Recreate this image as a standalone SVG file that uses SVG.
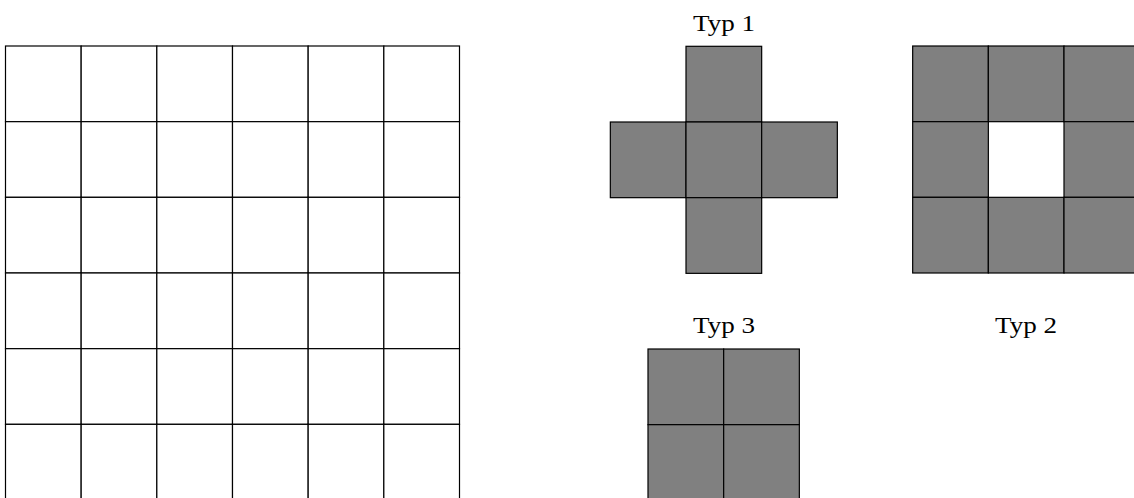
<svg xmlns="http://www.w3.org/2000/svg" width="1134" height="498" viewBox="0 0 1134 498">
<style>
.cell{fill:#fff;stroke:#000;stroke-width:1.2}
.g{fill:#808080;stroke:#000;stroke-width:1.2}
.lbl{font-family:"Liberation Serif","DejaVu Serif",serif;font-size:24px;fill:#000;text-anchor:middle}
</style>
<defs>
<rect id="c" width="75.67" height="75.67"/>
</defs>
<g id="grid">
<g class="cell">
<use href="#c" x="5.5" y="46"/><use href="#c" x="81.17" y="46"/><use href="#c" x="156.83" y="46"/><use href="#c" x="232.5" y="46"/><use href="#c" x="308.17" y="46"/><use href="#c" x="383.83" y="46"/>
<use href="#c" x="5.5" y="121.67"/><use href="#c" x="81.17" y="121.67"/><use href="#c" x="156.83" y="121.67"/><use href="#c" x="232.5" y="121.67"/><use href="#c" x="308.17" y="121.67"/><use href="#c" x="383.83" y="121.67"/>
<use href="#c" x="5.5" y="197.33"/><use href="#c" x="81.17" y="197.33"/><use href="#c" x="156.83" y="197.33"/><use href="#c" x="232.5" y="197.33"/><use href="#c" x="308.17" y="197.33"/><use href="#c" x="383.83" y="197.33"/>
<use href="#c" x="5.5" y="273"/><use href="#c" x="81.17" y="273"/><use href="#c" x="156.83" y="273"/><use href="#c" x="232.5" y="273"/><use href="#c" x="308.17" y="273"/><use href="#c" x="383.83" y="273"/>
<use href="#c" x="5.5" y="348.67"/><use href="#c" x="81.17" y="348.67"/><use href="#c" x="156.83" y="348.67"/><use href="#c" x="232.5" y="348.67"/><use href="#c" x="308.17" y="348.67"/><use href="#c" x="383.83" y="348.67"/>
<use href="#c" x="5.5" y="424.33"/><use href="#c" x="81.17" y="424.33"/><use href="#c" x="156.83" y="424.33"/><use href="#c" x="232.5" y="424.33"/><use href="#c" x="308.17" y="424.33"/><use href="#c" x="383.83" y="424.33"/>
</g>
</g>
<g id="typ1">
<text class="lbl" x="724" y="31" textLength="62" lengthAdjust="spacingAndGlyphs">Typ 1</text>
<g class="g">
<use href="#c" x="686" y="46.3"/>
<use href="#c" x="610.33" y="122"/><use href="#c" x="686" y="122"/><use href="#c" x="761.67" y="122"/>
<use href="#c" x="686" y="197.67"/>
</g>
</g>
<g id="typ2">
<text class="lbl" x="1026" y="333" textLength="62" lengthAdjust="spacingAndGlyphs">Typ 2</text>
<g class="g">
<use href="#c" x="912.67" y="46"/><use href="#c" x="988.33" y="46"/><use href="#c" x="1064" y="46"/>
<use href="#c" x="912.67" y="121.67"/><use href="#c" x="1064" y="121.67"/>
<use href="#c" x="912.67" y="197.33"/><use href="#c" x="988.33" y="197.33"/><use href="#c" x="1064" y="197.33"/>
</g>
</g>
<g id="typ3">
<text class="lbl" x="724" y="333" textLength="62" lengthAdjust="spacingAndGlyphs">Typ 3</text>
<g class="g">
<use href="#c" x="648" y="349"/><use href="#c" x="723.67" y="349"/>
<use href="#c" x="648" y="424.67"/><use href="#c" x="723.67" y="424.67"/>
</g>
</g>
</svg>
